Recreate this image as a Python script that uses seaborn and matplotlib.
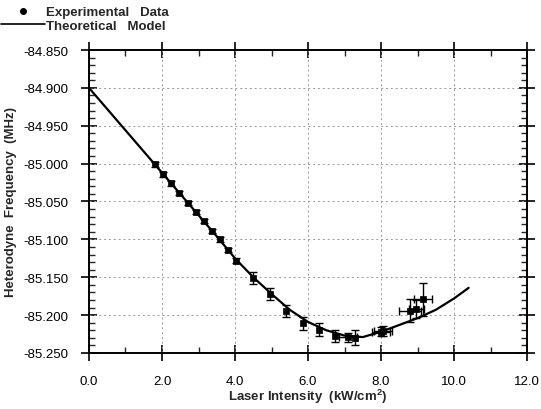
import numpy as np
import pandas as pd
import matplotlib
matplotlib.use("Agg")
import matplotlib.pyplot as plt
from matplotlib.ticker import MultipleLocator, FormatStrFormatter
from matplotlib.lines import Line2D
import seaborn as sns

# ---- data ----
model_x = [0.0, 0.5, 1.0, 1.5, 2.0, 2.5, 3.0, 3.5, 4.0, 4.5, 5.0, 5.5, 6.0, 6.5,
           7.0, 7.5, 8.0, 8.5, 9.0, 9.5, 10.0, 10.4]
model_y = [-84.900, -84.928, -84.956, -84.984, -85.012, -85.040, -85.068, -85.096,
           -85.125, -85.150, -85.172, -85.193, -85.209, -85.220, -85.227, -85.229,
           -85.222, -85.213, -85.204, -85.193, -85.178, -85.164]

exp_x = [1.81, 2.04, 2.25, 2.47, 2.70, 2.93, 3.16, 3.37, 3.59, 3.81, 4.04, 4.50,
         4.97, 5.40, 5.85, 6.30, 6.75, 7.10, 7.28, 8.00, 8.06, 8.80, 8.97, 9.14]
exp_y = [-85.001, -85.014, -85.026, -85.039, -85.052, -85.064, -85.076, -85.089,
         -85.100, -85.114, -85.128, -85.151, -85.172, -85.195, -85.211, -85.219,
         -85.227, -85.229, -85.230, -85.222, -85.221, -85.194, -85.192, -85.179]
exp_yerr = [0.003, 0.003, 0.003, 0.003, 0.003, 0.003, 0.003, 0.003, 0.003, 0.003,
            0.003, 0.008, 0.008, 0.008, 0.009, 0.008, 0.008, 0.006, 0.010, 0.006,
            0.006, 0.015, 0.012, 0.022]
exp_xerr = [0, 0, 0, 0, 0, 0, 0, 0, 0, 0, 0, 0, 0, 0, 0, 0, 0, 0.25, 0, 0.25,
            0.25, 0.30, 0.20, 0.25]

x_ticks = [0.0, 2.0, 4.0, 6.0, 8.0, 10.0, 12.0]
y_ticks = [-84.850, -84.900, -84.950, -85.000, -85.050, -85.100, -85.150, -85.200, -85.250]

legend_labels = ["Experimental   Data", "Theoretical   Model"]
x_label = "Laser Intensity  (kW/cm$^{\\mathbf{2}}$)"
y_label = "Heterodyne  Frequency  (MHz)"

# ---- plotting ----
sns.set_style("ticks")
plt.rcParams['font.family'] = ['Liberation Sans', 'DejaVu Sans']
plt.rcParams['mathtext.fontset'] = 'custom'
plt.rcParams['mathtext.bf'] = 'Liberation Sans:bold'
plt.rcParams['mathtext.rm'] = 'Liberation Sans'

fig = plt.figure(figsize=(5.41, 4.10), dpi=100)
ax = fig.add_axes([0.1645, 0.1366, 0.8097, 0.739])

model_df = pd.DataFrame({"x": model_x, "y": model_y})
exp_df = pd.DataFrame({"x": exp_x, "y": exp_y})

sns.lineplot(data=model_df, x="x", y="y", ax=ax, color="black", lw=1.6,
             sort=False, zorder=3)
xerr_arr = np.array(exp_xerr, dtype=float)
xerr_arr[xerr_arr == 0] = np.nan
ax.errorbar(exp_x, exp_y, yerr=exp_yerr, xerr=xerr_arr,
            fmt="none", ecolor="black", elinewidth=1.0, capsize=3, capthick=1.0, zorder=4)
sns.scatterplot(data=exp_df, x="x", y="y", ax=ax, color="black", marker="s",
                s=24, edgecolor="black", linewidth=0.5, zorder=5)

ax.set_xlim(0, 12)
ax.set_ylim(-85.250, -84.850)
ax.set_xticks(x_ticks)
ax.set_yticks(y_ticks)
ax.xaxis.set_major_formatter(FormatStrFormatter("%.1f"))
ax.yaxis.set_major_formatter(FormatStrFormatter("%.3f"))
ax.xaxis.set_minor_locator(MultipleLocator(1.0))
ax.yaxis.set_minor_locator(MultipleLocator(0.01))

for s in ax.spines.values():
    s.set_visible(True)
    s.set_linewidth(1.4)
    s.set_color("black")

ax.tick_params(which="major", direction="inout", length=12, width=1.2,
               top=True, right=True, labelsize=9.5, colors="black")
ax.tick_params(axis="x", which="major", pad=10)
ax.tick_params(axis="y", which="major", pad=9)
ax.tick_params(which="minor", direction="in", length=4, width=1.0,
               top=True, right=True)

for v in x_ticks[1:-1]:
    ax.axvline(v, color="#999999", lw=0.7, ls=(0, (2, 3)), zorder=1)
for v in y_ticks[1:-1]:
    ax.axhline(v, color="#999999", lw=0.7, ls=(0, (2, 3)), zorder=1)

ax.set_xlabel(x_label, fontsize=9.5, fontweight="bold", labelpad=0)
ax.set_ylabel(y_label, fontsize=9.5, fontweight="bold", labelpad=4)

handles = [Line2D([], [], marker="o", color="black", ls="none", markersize=4),
           Line2D([], [], color="black", lw=1.2)]
fig.legend(handles, legend_labels, loc="upper left", bbox_to_anchor=(-0.012, 1.002),
           frameon=False, prop={"weight": "bold", "size": 9.5},
           handlelength=3.3, handletextpad=0.05, labelspacing=0.08,
           borderaxespad=0.2)

fig.savefig("out.png", dpi=100)
